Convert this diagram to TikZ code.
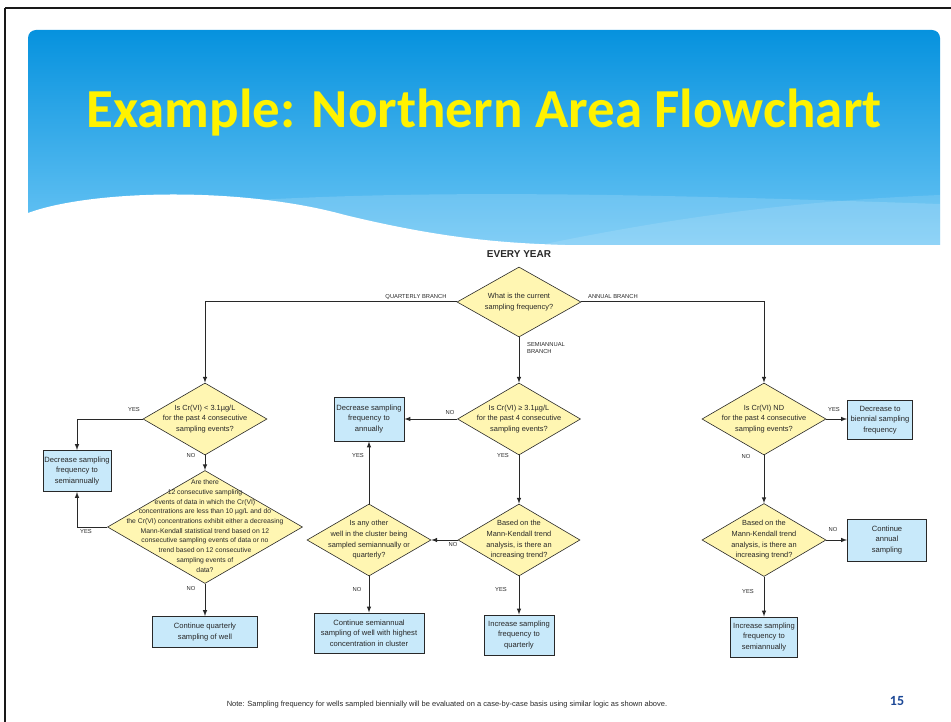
\documentclass[tikz,border=0pt]{standalone}
\usepackage{fontspec}
\setmainfont{Liberation Sans}
\newfontfamily\slidefont{Carlito}
\usepackage{xcolor}
\usetikzlibrary{arrows}
\usetikzlibrary{shapes.geometric}
\usetikzlibrary{math}
\definecolor{banntop}{RGB}{6,146,222}
\definecolor{bannbot}{RGB}{108,198,245}
\definecolor{qfill}{RGB}{255,246,178}
\definecolor{bfill}{RGB}{200,233,250}
\definecolor{ink}{RGB}{40,40,40}
\definecolor{pagenum}{RGB}{28,72,150}

\newcommand{\qtext}[1]{\smash{\makebox[0pt]{\raisebox{-0.35ex}{\begin{tabular}{@{}c@{}}#1\end{tabular}}}}}

\begin{document}
\begin{tikzpicture}[x=1pt, y=-1pt, line width=1pt, >=latex,
  question/.style 2 args={diamond, draw=ink, fill=qfill, line width=0.6pt, inner sep=0pt,
    minimum width=#1, minimum height=#2, text=ink, font=\fontsize{7.4}{10.6}\selectfont},
  action/.style 2 args={rectangle, draw=ink, fill=bfill, line width=1pt, inner sep=1pt,
    align=center, minimum width=#1, minimum height=#2, text=ink, font=\fontsize{7.6}{10.5}\selectfont},
  tag/.style={text=ink, inner sep=0pt, align=left, font=\fontsize{5.8}{7}\selectfont}]
\tikzmath{
\colQ=205;
\colM=519;
\colS=369;
\colR=764;
}
\useasboundingbox (0,0) rectangle (951,722);

%banner
\shade[top color=banntop, bottom color=bannbot] (28,245) -- (28,38) arc[start angle=180, end angle=270, radius=8]
  -- (932,30) arc[start angle=270, end angle=360, radius=8] -- (940,245) -- cycle;
\fill[white, opacity=0.15] (240,201) .. controls (450,188) and (700,196) .. (940,204) -- (940,245) -- (420,245) -- cycle;
\fill[white, opacity=0.12] (540,245) .. controls (700,212) and (820,200) .. (940,195) -- (940,245) -- cycle;
\fill[white] (28,245) -- (28,213) .. controls (90,190) and (240,186) .. (345,215) .. controls (440,238) and (500,243) .. (565,245) -- cycle;
\draw[line width=2.4pt, black!90] (5,8) -- (951,8);
\draw[line width=2.4pt, black!90] (5,8) -- (5,722);
\node[font=\slidefont\bfseries\fontsize{55}{64}\selectfont, text=yellow, anchor=base] (title) at (484,128) {Example: Northern Area Flowchart};

%decisions
\node[text=ink, font=\bfseries\fontsize{10}{12}\selectfont] (every) at (\colM,254) {EVERY YEAR};
\node[question={124}{70}] (d0) at (\colM,302) {\qtext{What is the current\\sampling frequency?}};
\node[question={124}{72}] (q1) at (\colQ,419) {\qtext{Is Cr(VI) < 3.1µg/L\\for the past 4 consecutive\\sampling events?}};
\node[question={195}{113}, font=\fontsize{6.8}{9.7}\selectfont] (q2) at (\colQ,527) {\qtext{Are there\\12 consecutive sampling\\events of data in which the Cr(VI)\\concentrations are less than 10 µg/L and do\\the Cr(VI) concentrations exhibit either a decreasing\\Mann-Kendall statistical trend based on 12\\consecutive sampling events of data or no\\trend based on 12 consecutive\\sampling events of\\data?}};
\node[question={123}{72}] (m1) at (\colM,419) {\qtext{Is Cr(VI) ≥ 3.1µg/L\\for the past 4 consecutive\\sampling events?}};
\node[question={122}{72}] (m2) at (\colM,540) {\qtext{Based on the\\Mann-Kendall trend\\analysis, is there an\\increasing trend?}};
\node[question={124}{72}] (m3) at (\colS,540) {\qtext{Is any other\\well in the cluster being\\sampled semiannually or\\quarterly?}};
\node[question={124}{72}] (r1) at (\colR,419) {\qtext{Is Cr(VI) ND\\for the past 4 consecutive\\sampling events?}};
\node[question={124}{73}] (r2) at (\colR,540) {\qtext{Based on the\\Mann-Kendall trend\\analysis, is there an\\increasing trend?}};

%actions
\node[action={68}{41}] (bq1) at (77,471) {Decrease sampling\\frequency to\\semiannually};
\node[action={105}{31}] (bq2) at (\colQ,632) {Continue quarterly\\sampling of well};
\node[action={70}{44}] (bm1) at (\colS,419) {Decrease sampling\\frequency to\\annually};
\node[action={110}{40}] (bm2) at (\colS,633) {Continue semiannual\\sampling of well with highest\\concentration in cluster};
\node[action={70}{40}] (bm3) at (\colM,635) {Increase sampling\\frequency to\\quarterly};
\node[action={65}{39}] (br1) at (880,420) {Decrease to\\biennial sampling\\frequency};
\node[action={79}{42}] (br2) at (887,540) {Continue\\annual\\sampling};
\node[action={67}{40}] (br3) at (\colR,637) {Increase sampling\\frequency to\\semiannually};

%connectors
\draw[->, ink] (d0.west) -| (q1.north);
\draw[->, ink] (d0.east) -| (r1.north);
\draw[->, ink] (d0.south) -- (m1.north);
\draw[->, ink] (q1.west) -| (bq1.north);
\draw[->, ink] (q1.south) -- (q2.north);
\draw[->, ink] (q2.west) -| (bq1.south);
\draw[->, ink] (q2.south) -- (bq2.north);
\draw[->, ink] (m1.west) -- (bm1.east);
\draw[->, ink] (m1.south) -- (m2.north);
\draw[->, ink] (m2.west) -- (m3.east);
\draw[->, ink] (m2.south) -- (bm3.north);
\draw[->, ink] (m3.north) -- (bm1.south);
\draw[->, ink] (m3.south) -- (bm2.north);
\draw[->, ink] (r1.east) -- (r1.east -| br1.west);
\draw[->, ink] (r1.south) -- (r2.north);
\draw[->, ink] (r2.east) -- (r2.east -| br2.west);
\draw[->, ink] (r2.south) -- (br3.north);

%branch labels
\foreach \t/\x/\y [count=\i] in {QUARTERLY BRANCH/416/297, ANNUAL BRANCH/613/297, {SEMIANNUAL\\BRANCH}/546/348,
  YES/134/410, NO/191/456, YES/86/532, NO/191/589,
  NO/450/413, YES/503/456, YES/358/456, NO/453/545, NO/357/590, YES/501/590,
  YES/834/410, NO/746/457, NO/833/530, YES/748/592}{
  \node[tag] (tag\i) at (\x,\y) {\t};
}

\node[text=ink, font=\fontsize{7.5}{9}\selectfont] (note) at (447,705) {Note: Sampling frequency for wells sampled biennially will be evaluated on a case-by-case basis using similar logic as shown above.};
\node[text=pagenum, font=\slidefont\bfseries\fontsize{14}{16}\selectfont] (page) at (897,701) {15};
\end{tikzpicture}
\end{document}
